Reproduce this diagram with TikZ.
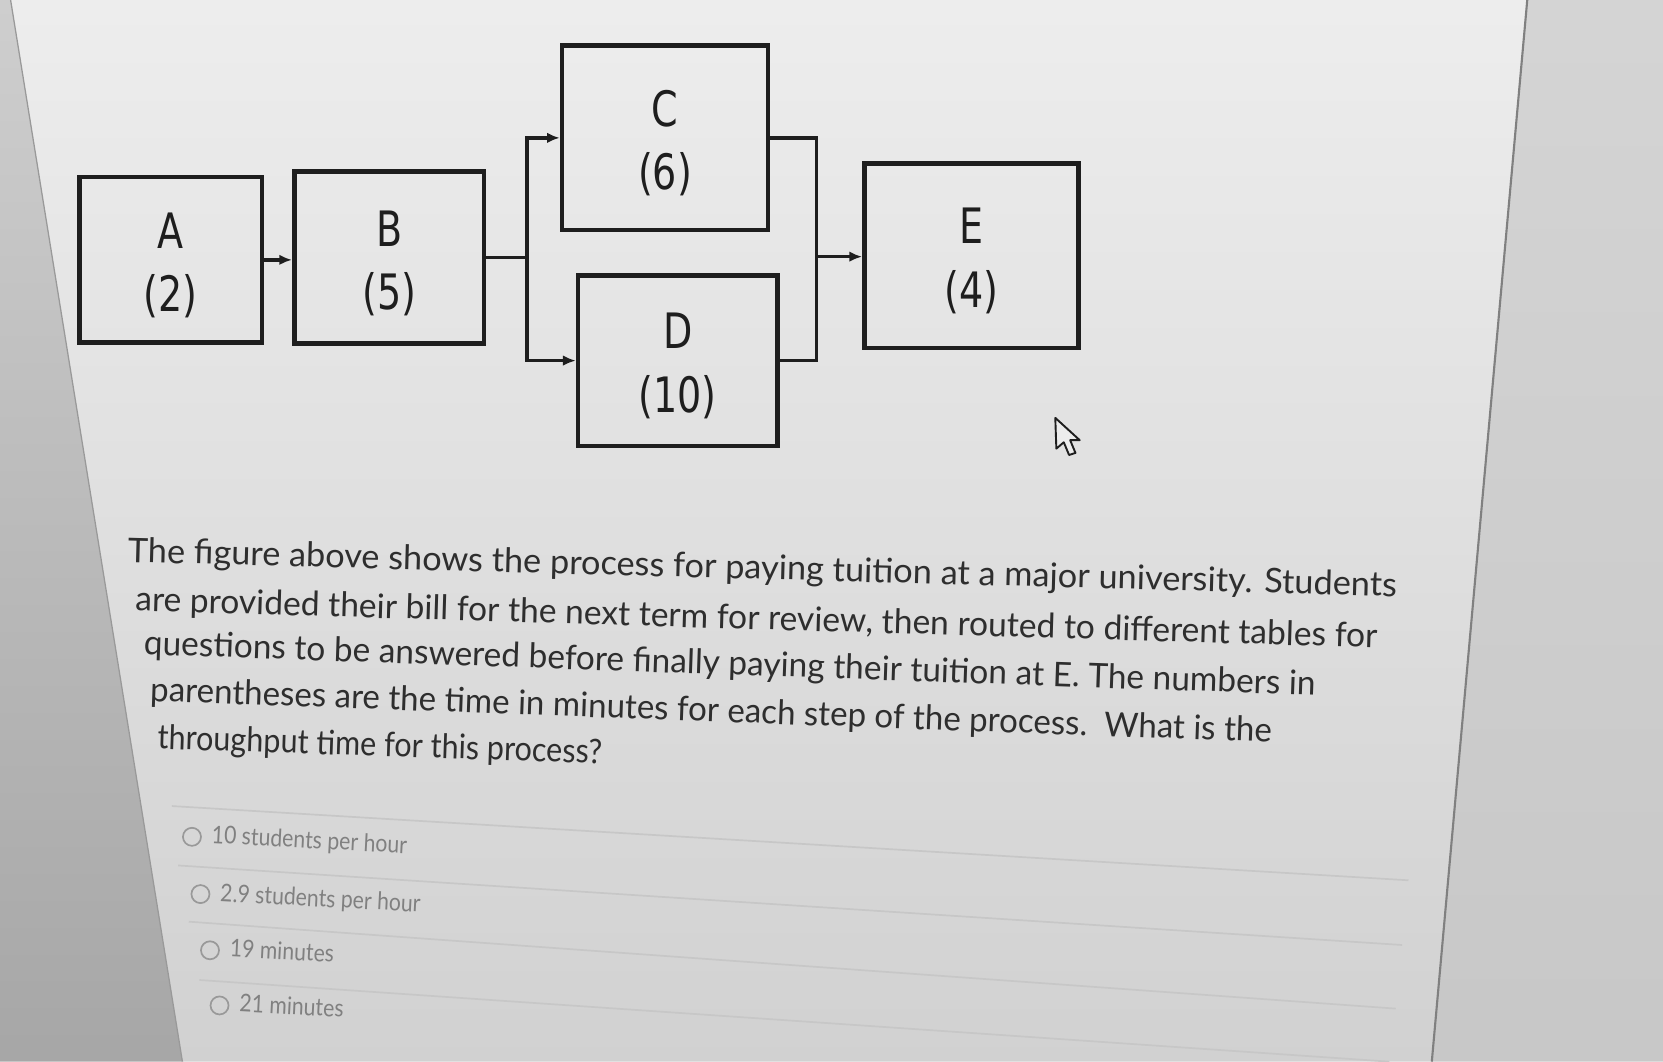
\documentclass[tikz,border=0pt]{standalone}
\usepackage{fontspec}
\usetikzlibrary{arrows.meta}
\newfontfamily\boxfont{DejaVu Sans}[FakeStretch=0.78]
\newfontfamily\bodyfont{Lato}
\newfontfamily\optfont{Lato}[FakeStretch=0.87]
\definecolor{panelleft}{HTML}{B9B9B9}
\definecolor{panelright}{HTML}{D2D2D2}
\definecolor{inktext}{HTML}{2E2E2E}
\definecolor{inkbox}{HTML}{1E1E1E}
\newcommand{\lblstrut}{\rule{0pt}{22pt}}
\begin{document}
\begin{tikzpicture}[x=0.5pt,y=-0.5pt,
  stage/.style={draw=inkbox, line width=2.2pt, inner sep=0pt, align=center,
    font=\boxfont\fontsize{23}{30}\selectfont, text=inkbox},
  link/.style={line width=1.6pt, draw=inkbox},
  arr/.style={link, -{Latex[length=6pt,width=5pt]}},
  para/.style={anchor=base west, inner sep=0pt, font=\bodyfont\fontsize{16}{19}\selectfont, text=inktext},
  opt/.style={anchor=base west, inner sep=0pt, font=\optfont\fontsize{11.5}{14}\selectfont, text=black!50},
  radio/.style={draw=black!40, line width=0.8pt, circle, minimum size=8.5pt, inner sep=0pt},
  sep/.style={draw=black!22, line width=0.8pt}]
\useasboundingbox (0,0) rectangle (1568,1001);
% background
\shade[top color=panelleft!70!white, bottom color=panelleft!90!black] (0,0) -- (10,0) -- (172,1001) -- (0,1001) -- cycle;
\shade[top color=black!7, bottom color=black!18] (10,0) -- (1440,0) -- (1350,1001) -- (172,1001) -- cycle;
\shade[top color=panelright!95!white, bottom color=panelright!95!black] (1440,0) -- (1568,0) -- (1568,1001) -- (1350,1001) -- cycle;
\draw[black!50, line width=1pt] (1440,0) -- (1350,1001);
\draw[black!40, line width=0.6pt] (10,0) -- (172,1001);
% process boxes
\node[stage, minimum width=86pt, minimum height=78pt] (A) at (161,245) {\lblstrut A\\(2)};
\node[stage, minimum width=89.5pt, minimum height=81pt] (B) at (367,243) {\lblstrut B\\(5)};
\node[stage, minimum width=97pt, minimum height=87pt] (C) at (627,130) {\lblstrut C\\(6)};
\node[stage, minimum width=94pt, minimum height=80.5pt] (D) at (639,340) {\lblstrut D\\(10)};
\node[stage, minimum width=101pt, minimum height=87pt] (E) at (916,241) {\lblstrut E\\(4)};
\coordinate (split) at (497,243);
\coordinate (merge) at (770,242);
\draw[arr] (A.east) -- (A.east -| B.west);
\draw[link] (B.east) -- (split);
\draw[arr] (split) |- (C.west);
\draw[arr] (split) |- (D.west);
\draw[link] (C.east) -| (merge);
\draw[link] (D.east) -| (merge);
\draw[arr] (merge) -- (merge -| E.west);
% cursor
\draw[inkbox, line width=0.9pt, fill=white!85!gray, line join=round]
  (995,394) -- (996,423) -- (1003,417) -- (1008,429) -- (1014,427) -- (1009,415) -- (1018,415) -- cycle;
% question text
\node[para, rotate=-1.55] (t1) at (120,530) {\scalebox{1.01}[1]{The figure above shows the process for paying tuition at a major university. Students}};
\node[para, rotate=-1.7] (t2) at (127,576) {\scalebox{0.99}[1]{are provided their bill for the next term for review, then routed to different tables for}};
\node[para, rotate=-2.0] (t3) at (135,617) {\scalebox{0.985}[1]{questions to be answered before finally paying their tuition at E. The numbers in}};
\node[para, rotate=-2.1] (t4) at (141,661) {\scalebox{0.975}[1]{parentheses are the time in minutes for each step of the process.\ \ What is the}};
\node[para, rotate=-1.9] (t5) at (148,706) {\scalebox{0.9}[1]{throughput time for this process?}};
% separators
\draw[sep] (162,760) -- (1328,830);
\draw[sep] (168,816) -- (1322,891);
\draw[sep] (178,869) -- (1316,951);
\draw[sep] (188,924) -- (1310,1001);
% options
\node[radio] (r1) at (181,789) {};
\node[opt, rotate=-3] (o1) at (199,795) {10 students per hour};
\node[radio] (r2) at (189,843) {};
\node[opt, rotate=-3] (o2) at (207,850) {2.9 students per hour};
\node[radio] (r3) at (198,896) {};
\node[opt, rotate=-3] (o3) at (216,902) {19 minutes};
\node[radio] (r4) at (207,948) {};
\node[opt, rotate=-3] (o4) at (225,954) {21 minutes};
\end{tikzpicture}
\end{document}
